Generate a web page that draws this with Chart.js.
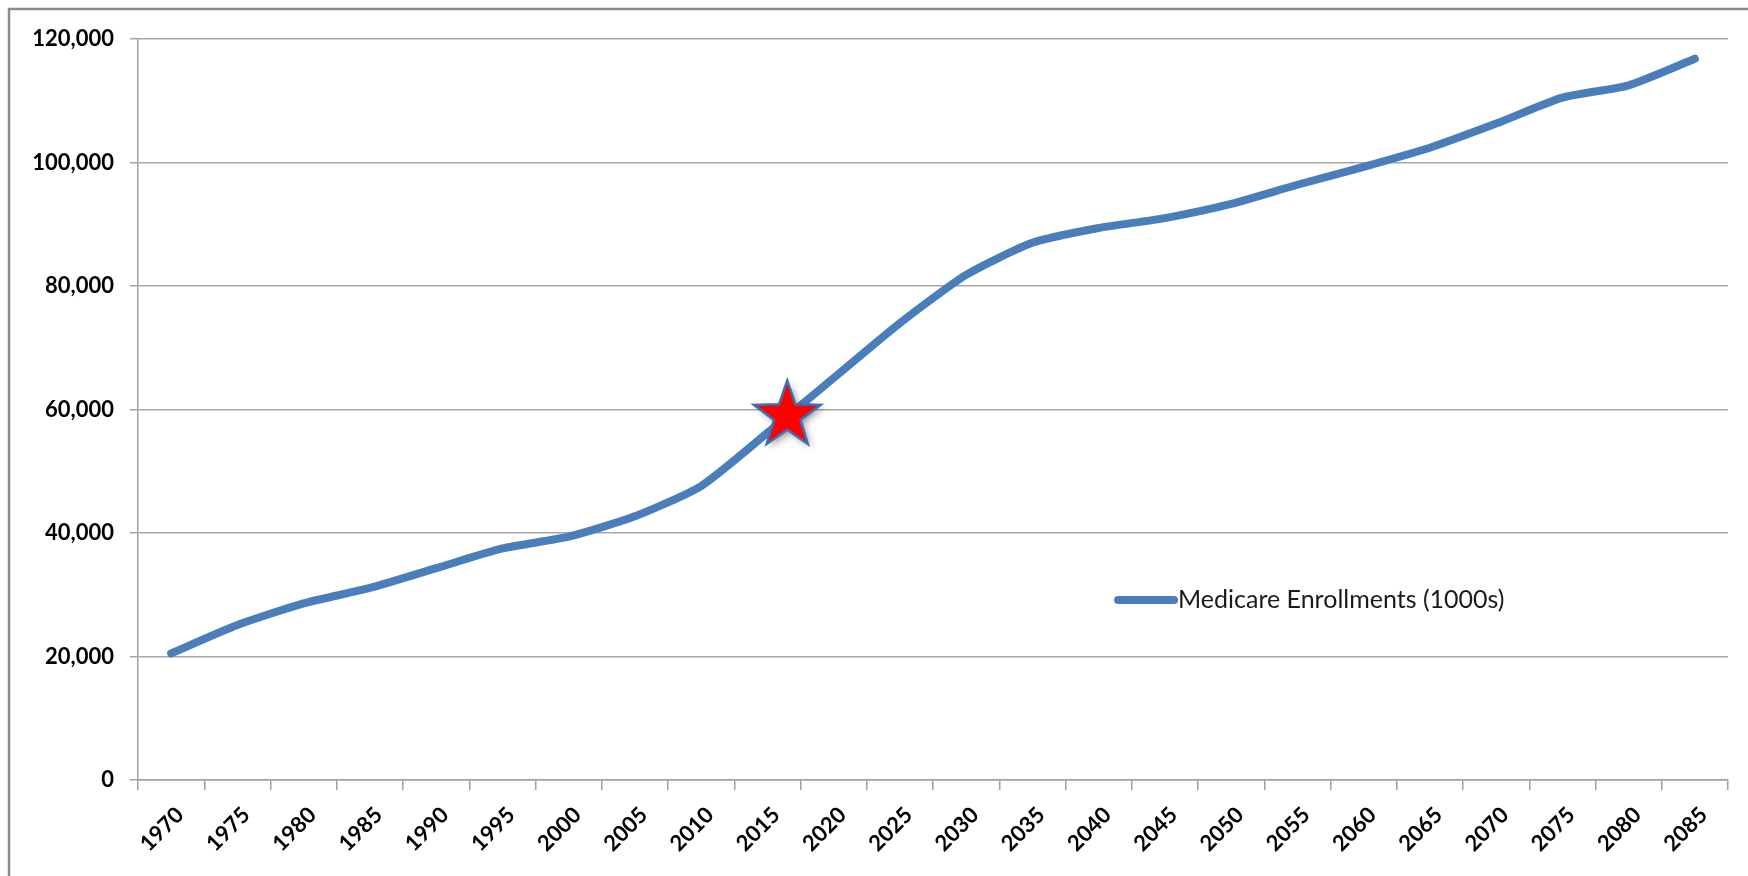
<!DOCTYPE html>
<html>
<head>
<meta charset="utf-8">
<script src="https://cdn.jsdelivr.net/npm/chart.js@4.4.1/dist/chart.umd.min.js"></script>
<style>
  html, body { margin: 0; padding: 0; background: #fff; }
  #wrap { width: 1748px; height: 876px; }
</style>
</head>
<body>
<div id="wrap"><canvas id="myChart" width="1748" height="876"></canvas></div>
<script>
// categories and values
const years = ['1970', '1975', '1980', '1985', '1990', '1995', '2000', '2005',
  '2010', '2015', '2020', '2025', '2030', '2035', '2040', '2045', '2050',
  '2055', '2060', '2065', '2070', '2075', '2080', '2085'];
const enrollments = [20500, 25100, 28600, 31100, 34300, 37500, 39400, 42700,
  47600, 56200, 65100, 74000, 81800, 87000, 89400, 91000, 93300,
  96400, 99300, 102400, 106300, 110500, 112500, 116800];
const seriesLabel = 'Medicare Enrollments (1000s)';
const yTicks = [0, 20000, 40000, 60000, 80000, 100000, 120000];
// the red star marks "today" on the curve
const starYear = 2016.5;
const starValue = 59000;

const lineBlue = '#4a7ebb';

// grey frame round the chart (only left and top show in the picture)
const framePlugin = {
  id: 'frame',
  beforeDraw(chart) {
    const ctx = chart.ctx;
    ctx.save();
    ctx.fillStyle = '#fff';
    ctx.fillRect(0, 0, chart.width, chart.height);
    ctx.strokeStyle = '#8a8a8a';
    ctx.lineWidth = 2.5;
    ctx.strokeRect(9, 9, chart.width + 50, chart.height + 50);
    ctx.restore();
  }
};

function drawStar(ctx, cx, cy, R, r) {
  ctx.beginPath();
  for (let i = 0; i < 10; i++) {
    const rad = i % 2 === 0 ? R : r;
    const a = -Math.PI / 2 + i * Math.PI / 5;
    const px = cx + rad * Math.cos(a);
    const py = cy + rad * Math.sin(a);
    if (i === 0) ctx.moveTo(px, py); else ctx.lineTo(px, py);
  }
  ctx.closePath();
}

const starPlugin = {
  id: 'star',
  afterDatasetsDraw(chart) {
    const xs = chart.scales.x, ys = chart.scales.y;
    const idx = (starYear - Number(years[0])) / 5;
    const cx = xs.getPixelForValue(idx);
    const cy = ys.getPixelForValue(starValue);
    const ctx = chart.ctx;
    ctx.save();
    ctx.shadowColor = 'rgba(0,0,0,0.4)';
    ctx.shadowBlur = 7;
    ctx.shadowOffsetX = 3;
    ctx.shadowOffsetY = 3;
    drawStar(ctx, cx, cy, 35, 14);
    ctx.fillStyle = '#ff0000';
    ctx.fill();
    ctx.shadowColor = 'transparent';
    ctx.lineWidth = 2.5;
    ctx.strokeStyle = '#3f6fb5';
    ctx.stroke();
    ctx.restore();
  }
};

// legend sits inside the plot, to the right of centre
const legendPlugin = {
  id: 'insideLegend',
  afterDatasetsDraw(chart) {
    const ctx = chart.ctx;
    const ds = chart.data.datasets[0];
    const x0 = 1118, x1 = 1174, y = 600;
    ctx.save();
    ctx.strokeStyle = ds.borderColor;
    ctx.lineWidth = 8;
    ctx.lineCap = 'round';
    ctx.beginPath();
    ctx.moveTo(x0, y);
    ctx.lineTo(x1, y);
    ctx.stroke();
    ctx.fillStyle = '#1a1a1a';
    ctx.font = '25px Lato';
    ctx.textBaseline = 'middle';
    ctx.fillText(ds.label, x1 + 4, y);
    ctx.restore();
  }
};

document.addEventListener('DOMContentLoaded', function() {
  const ctx = document.getElementById('myChart').getContext('2d');
  new Chart(ctx, {
    type: 'line',
    data: {
      labels: years,
      datasets: [{
        label: seriesLabel,
        data: enrollments,
        borderColor: lineBlue,
        backgroundColor: lineBlue,
        borderWidth: 8,
        borderCapStyle: 'round',
        borderJoinStyle: 'round',
        pointRadius: 0,
        tension: 0.2,
        fill: false
      }]
    },
    options: {
      responsive: false,
      animation: false,
      layout: { padding: { top: 39, right: 20, left: 0, bottom: 0 } },
      plugins: {
        legend: { display: false },
        tooltip: { enabled: false }
      },
      scales: {
        x: {
          offset: true,
          grid: {
            offset: true,
            drawOnChartArea: false,
            drawTicks: true,
            tickLength: 10,
            color: '#a0a0a0',
            lineWidth: 1.5
          },
          border: { color: '#a0a0a0', width: 1.5 },
          ticks: {
            color: '#000',
            font: { family: 'Lato', size: 22, weight: 'bold' },
            minRotation: 45,
            maxRotation: 45,
            autoSkip: false,
            padding: 12,
            labelOffset: 9
          },
          afterFit(scale) { scale.height = 96; }
        },
        y: {
          min: 0,
          max: 120000,
          afterBuildTicks(scale) {
            scale.ticks = yTicks.map(v => ({ value: v }));
          },
          grid: {
            color: '#a6a6a6',
            lineWidth: 1.5,
            tickLength: 8
          },
          border: { color: '#a0a0a0', width: 1.5 },
          ticks: {
            color: '#000',
            font: { family: 'Lato', size: 22, weight: 'bold' },
            padding: 16,
            callback: v => v.toLocaleString('en-US')
          },
          afterFit(scale) { scale.width = 138; }
        }
      }
    },
    plugins: [framePlugin, starPlugin, legendPlugin]
  });
});
</script>
</body>
</html>
